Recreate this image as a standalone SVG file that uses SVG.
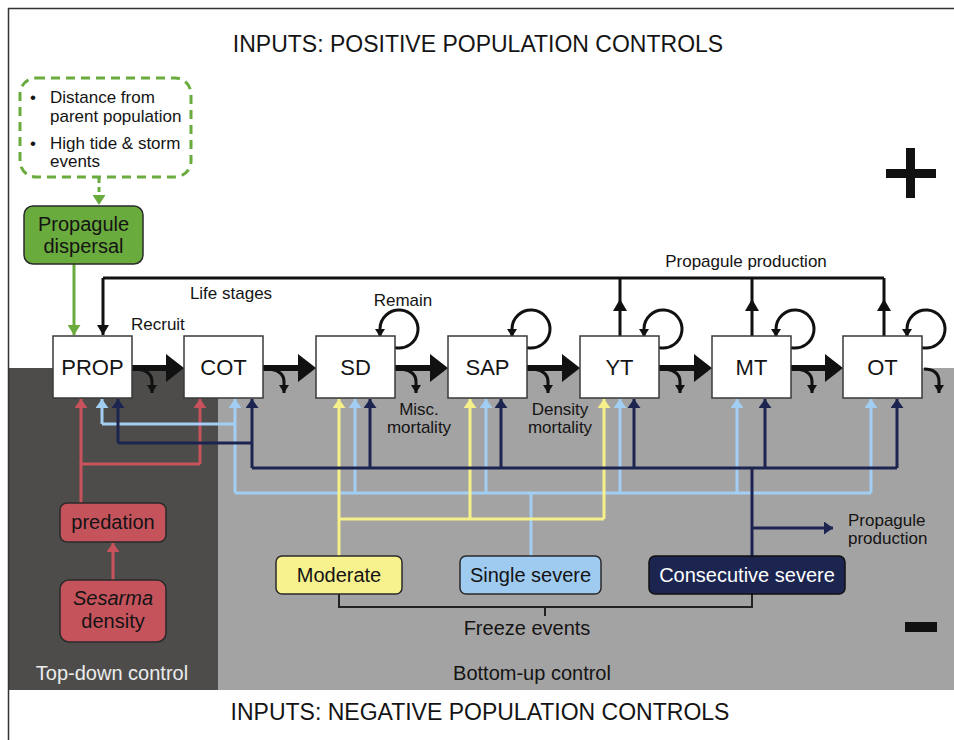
<svg xmlns="http://www.w3.org/2000/svg" width="954" height="740" viewBox="0 0 954 740">
<defs>
<style>
.t{font-family:"Liberation Sans",Arial,Helvetica,sans-serif;fill:#141414}
.box{fill:#fff;stroke:#3a3a3a;stroke-width:1.5}
.c{fill:none;stroke-width:3}
.lb{stroke:#a3cef3}
.nv{stroke:#1c2450}
.yl{stroke:#f6f08a}
.rd{stroke:#c9535d}
.gr{stroke:#6aab3e}
.bk{stroke:#111;stroke-width:3;fill:none}
.thick{stroke:#111;stroke-width:6}
.head{fill:#111}
</style>
<marker id="mLb" viewBox="0 0 9 13" refX="9" refY="6.5" markerWidth="9" markerHeight="13" markerUnits="userSpaceOnUse" orient="auto"><path d="M0,0 L9,6.5 L0,13 z" fill="#a3cef3"/></marker>
<marker id="mNv" viewBox="0 0 9 13" refX="9" refY="6.5" markerWidth="9" markerHeight="13" markerUnits="userSpaceOnUse" orient="auto"><path d="M0,0 L9,6.5 L0,13 z" fill="#1c2450"/></marker>
<marker id="mYl" viewBox="0 0 9 13" refX="9" refY="6.5" markerWidth="9" markerHeight="13" markerUnits="userSpaceOnUse" orient="auto"><path d="M0,0 L9,6.5 L0,13 z" fill="#f6f08a"/></marker>
<marker id="mRd" viewBox="0 0 9 13" refX="9" refY="6.5" markerWidth="9" markerHeight="13" markerUnits="userSpaceOnUse" orient="auto"><path d="M0,0 L9,6.5 L0,13 z" fill="#c9535d"/></marker>
<marker id="mGr" viewBox="0 0 10 13" refX="10" refY="6.5" markerWidth="10" markerHeight="13" markerUnits="userSpaceOnUse" orient="auto"><path d="M0,0 L10,6.5 L0,13 z" fill="#6aab3e"/></marker>
<marker id="mBk" viewBox="0 0 10 12" refX="10" refY="6" markerWidth="10" markerHeight="12" markerUnits="userSpaceOnUse" orient="auto"><path d="M0,0 L10,6 L0,12 z" fill="#111"/></marker>
<marker id="mBs" viewBox="0 0 8 10" refX="8" refY="5" markerWidth="8" markerHeight="10" markerUnits="userSpaceOnUse" orient="auto"><path d="M0,0 L8,5 L0,10 z" fill="#111"/></marker>
</defs>

<!-- background -->
<rect x="0" y="0" width="954" height="740" fill="#fff"/>
<rect x="8" y="368" width="210" height="322" fill="#4d4c4b"/>
<rect x="218" y="368" width="736" height="322" fill="#a4a3a3"/>
<path d="M8.5 740 V8.5 H954" fill="none" stroke="#333" stroke-width="1.5"/>

<!-- titles and signs -->
<g id="titles">
<text class="t" x="478" y="52" font-size="23" text-anchor="middle">INPUTS: POSITIVE POPULATION CONTROLS</text>
<text class="t" x="480" y="720" font-size="23" text-anchor="middle">INPUTS: NEGATIVE POPULATION CONTROLS</text>
<rect x="906" y="148" width="9" height="50" fill="#111"/>
<rect x="886" y="169" width="50" height="9" fill="#111"/>
<rect x="905" y="622" width="32" height="10" fill="#111"/>
<text class="t" x="112" y="680" font-size="20" text-anchor="middle" style="fill:#ececec">Top-down control</text>
<text class="t" x="532" y="680" font-size="20" text-anchor="middle">Bottom-up control</text>
<text class="t" x="231" y="299" font-size="17" text-anchor="middle">Life stages</text>
<text class="t" x="131" y="330" font-size="17">Recruit</text>
<text class="t" x="403" y="306" font-size="17" text-anchor="middle">Remain</text>
<text class="t" x="746" y="267" font-size="17" text-anchor="middle">Propagule production</text>
<text class="t" x="419" y="415" font-size="17" text-anchor="middle">Misc.</text>
<text class="t" x="419" y="433" font-size="17" text-anchor="middle">mortality</text>
<text class="t" x="560" y="415" font-size="17" text-anchor="middle">Density</text>
<text class="t" x="560" y="433" font-size="17" text-anchor="middle">mortality</text>
<text class="t" x="848" y="526" font-size="17">Propagule</text>
<text class="t" x="848" y="544" font-size="17">production</text>
<text class="t" x="527" y="635" font-size="20" text-anchor="middle">Freeze events</text>
</g>

<!-- connectors -->
<g id="connectors">
<!-- green -->
<line x1="99" y1="178" x2="99" y2="205" class="c gr" stroke-dasharray="5 4" marker-end="url(#mGr)"/>
<line x1="74" y1="264" x2="74" y2="335" class="c gr" marker-end="url(#mGr)"/>
<!-- propagule production loop -->
<path d="M620 336 V278 M752 336 V278 M884 336 V278 M884 278 H103" class="bk"/>
<line x1="103" y1="278" x2="103" y2="335" class="bk" marker-end="url(#mBk)"/>
<polygon points="613,311 620,299 627,311" class="head"/>
<polygon points="745,311 752,299 759,311" class="head"/>
<polygon points="877,311 884,299 891,311" class="head"/>
<!-- thick transitions -->
<g>
<line x1="131" y1="368" x2="167" y2="368" class="thick"/><polygon points="166,354 184,368 166,382" class="head"/>
<line x1="263" y1="368" x2="299" y2="368" class="thick"/><polygon points="298,354 316,368 298,382" class="head"/>
<line x1="395" y1="368" x2="431" y2="368" class="thick"/><polygon points="430,354 448,368 430,382" class="head"/>
<line x1="527" y1="368" x2="563" y2="368" class="thick"/><polygon points="562,354 580,368 562,382" class="head"/>
<line x1="659" y1="368" x2="695" y2="368" class="thick"/><polygon points="694,354 712,368 694,382" class="head"/>
<line x1="791" y1="368" x2="826" y2="368" class="thick"/><polygon points="825,354 843,368 825,382" class="head"/>
</g>
<!-- mortality curves -->
<g class="bk" marker-end="url(#mBs)">
<path d="M133 369 Q152 369 152 382 V393"/>
<path d="M265 369 Q284 369 284 382 V393"/>
<path d="M397 369 Q416 369 416 382 V393"/>
<path d="M529 369 Q548 369 548 382 V393"/>
<path d="M661 369 Q680 369 680 382 V393"/>
<path d="M793 369 Q812 369 812 382 V393"/>
<path d="M924 369 Q939 369 939 382 V393"/>
</g>
<!-- remain loops -->
<g class="bk" marker-end="url(#mBs)">
<path d="M395 347.6 A19 19 0 1 0 380 329 V337"/>
<path d="M527 347.6 A19 19 0 1 0 512 329 V337"/>
<path d="M659 347.6 A19 19 0 1 0 644 329 V337"/>
<path d="M791 347.6 A19 19 0 1 0 776 329 V337"/>
<path d="M922 347.6 A19 19 0 1 0 907 329 V337"/>
</g>
<!-- red: predation -->
<path d="M81 503 V464 H200" class="c rd"/>
<line x1="81" y1="464" x2="81" y2="399" class="c rd" marker-end="url(#mRd)"/>
<line x1="200" y1="464" x2="200" y2="399" class="c rd" marker-end="url(#mRd)"/>
<line x1="113" y1="580" x2="113" y2="543" class="c rd" marker-end="url(#mRd)"/>
<!-- light blue: single severe -->
<path d="M235 424 H102 M235 493 V424 M235 493 H871 M531 493 V556" class="c lb"/>
<line x1="102" y1="424" x2="102" y2="399" class="c lb" marker-end="url(#mLb)"/>
<line x1="235" y1="424" x2="235" y2="399" class="c lb" marker-end="url(#mLb)"/>
<line x1="355" y1="493" x2="355" y2="399" class="c lb" marker-end="url(#mLb)"/>
<line x1="486" y1="493" x2="486" y2="399" class="c lb" marker-end="url(#mLb)"/>
<line x1="620" y1="493" x2="620" y2="399" class="c lb" marker-end="url(#mLb)"/>
<line x1="737" y1="493" x2="737" y2="399" class="c lb" marker-end="url(#mLb)"/>
<line x1="871" y1="493" x2="871" y2="399" class="c lb" marker-end="url(#mLb)"/>
<!-- yellow: moderate -->
<path d="M339 556 V519 M339 519 H604" class="c yl"/>
<line x1="339" y1="519" x2="339" y2="399" class="c yl" marker-end="url(#mYl)"/>
<line x1="470" y1="519" x2="470" y2="399" class="c yl" marker-end="url(#mYl)"/>
<line x1="604" y1="519" x2="604" y2="399" class="c yl" marker-end="url(#mYl)"/>
<!-- navy: consecutive severe -->
<path d="M252 443 H118 M252 468 V443 M252 468 H897 M752 468 V556" class="c nv"/>
<line x1="752" y1="528" x2="833" y2="528" class="c nv" marker-end="url(#mNv)"/>
<line x1="118" y1="443" x2="118" y2="399" class="c nv" marker-end="url(#mNv)"/>
<line x1="252" y1="443" x2="252" y2="399" class="c nv" marker-end="url(#mNv)"/>
<line x1="370" y1="468" x2="370" y2="399" class="c nv" marker-end="url(#mNv)"/>
<line x1="501" y1="468" x2="501" y2="399" class="c nv" marker-end="url(#mNv)"/>
<line x1="634" y1="468" x2="634" y2="399" class="c nv" marker-end="url(#mNv)"/>
<line x1="765" y1="468" x2="765" y2="399" class="c nv" marker-end="url(#mNv)"/>
<line x1="897" y1="468" x2="897" y2="399" class="c nv" marker-end="url(#mNv)"/>
<!-- freeze events bracket -->
<path d="M339 594 V607 H752 V594 M545 607 V616" fill="none" stroke="#222" stroke-width="2"/>
</g>

<!-- nodes -->
<g id="positive-inputs">
<rect x="20" y="78" width="171" height="99" rx="16" fill="#fff" stroke="#6aab3e" stroke-width="3" stroke-dasharray="9 6"/>
<text class="t" x="30" y="103" font-size="17">•</text>
<text class="t" x="50" y="103" font-size="17">Distance from</text>
<text class="t" x="50" y="122" font-size="17">parent population</text>
<text class="t" x="30" y="149" font-size="17">•</text>
<text class="t" x="50" y="149" font-size="17">High tide &amp; storm</text>
<text class="t" x="50" y="167" font-size="17">events</text>
</g>
<g id="propagule-dispersal">
<rect x="24" y="206" width="119" height="58" rx="9" fill="#6aab3e" stroke="#2a2a2a" stroke-width="1.5"/>
<text class="t" x="83.5" y="231" font-size="20" text-anchor="middle">Propagule</text>
<text class="t" x="83.5" y="253" font-size="20" text-anchor="middle">dispersal</text>
</g>
<g id="PROP"><rect class="box" x="53" y="336" width="79" height="62"/><text class="t" x="92.5" y="375" font-size="22" text-anchor="middle">PROP</text></g>
<g id="COT"><rect class="box" x="184" y="336" width="79" height="62"/><text class="t" x="223.5" y="375" font-size="22" text-anchor="middle">COT</text></g>
<g id="SD"><rect class="box" x="316" y="336" width="79" height="62"/><text class="t" x="355.5" y="375" font-size="22" text-anchor="middle">SD</text></g>
<g id="SAP"><rect class="box" x="448" y="336" width="79" height="62"/><text class="t" x="487.5" y="375" font-size="22" text-anchor="middle">SAP</text></g>
<g id="YT"><rect class="box" x="580" y="336" width="79" height="62"/><text class="t" x="619.5" y="375" font-size="22" text-anchor="middle">YT</text></g>
<g id="MT"><rect class="box" x="712" y="336" width="79" height="62"/><text class="t" x="751.5" y="375" font-size="22" text-anchor="middle">MT</text></g>
<g id="OT"><rect class="box" x="843" y="336" width="79" height="62"/><text class="t" x="882.5" y="375" font-size="22" text-anchor="middle">OT</text></g>
<g id="predation">
<rect x="60" y="503" width="106" height="39" rx="7" fill="#c5535c" stroke="#2a2a2a" stroke-width="1.5"/>
<text class="t" x="113" y="529" font-size="20" text-anchor="middle">predation</text>
</g>
<g id="sesarma-density">
<rect x="60" y="580" width="106" height="62" rx="9" fill="#c5535c" stroke="#2a2a2a" stroke-width="1.5"/>
<text class="t" x="113" y="605" font-size="20" text-anchor="middle" font-style="italic">Sesarma</text>
<text class="t" x="113" y="628" font-size="20" text-anchor="middle">density</text>
</g>
<g id="moderate">
<rect x="276" y="556" width="126" height="38" rx="6" fill="#f8f28e" stroke="#2a2a2a" stroke-width="1.5"/>
<text class="t" x="339" y="582" font-size="20" text-anchor="middle">Moderate</text>
</g>
<g id="single-severe">
<rect x="460" y="556" width="141" height="38" rx="6" fill="#9fcbf1" stroke="#2a2a2a" stroke-width="1.5"/>
<text class="t" x="530.5" y="582" font-size="20" text-anchor="middle">Single severe</text>
</g>
<g id="consecutive-severe">
<rect x="649" y="556" width="196" height="38" rx="6" fill="#1c2450" stroke="#111" stroke-width="1.5"/>
<text class="t" x="747" y="582" font-size="20" text-anchor="middle" style="fill:#fff">Consecutive severe</text>
</g>
</svg>
